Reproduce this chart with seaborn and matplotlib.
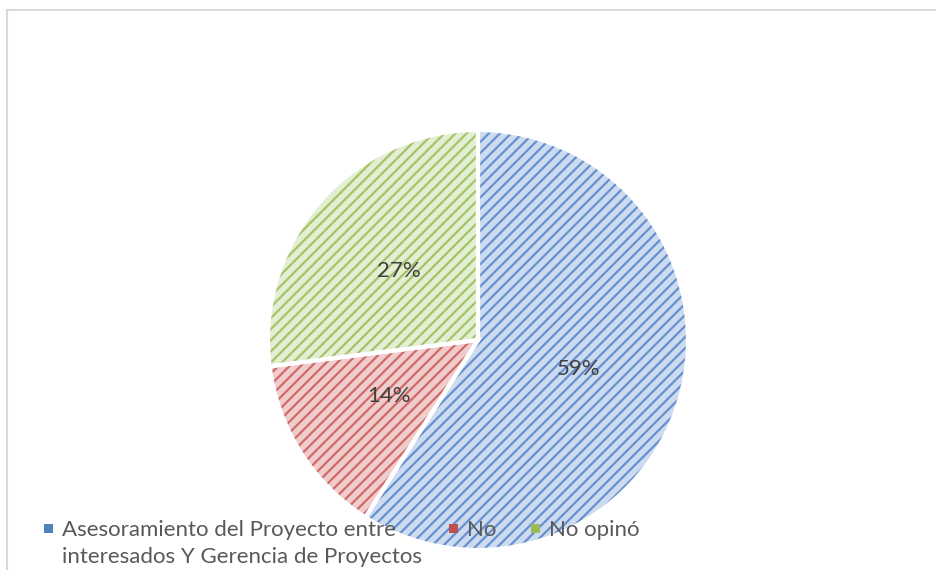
import matplotlib
matplotlib.use("Agg")
import matplotlib.pyplot as plt
from matplotlib.patches import Rectangle
import seaborn as sns

# ---- data ----
categories = ["Asesoramiento del Proyecto entre\ninteresados Y Gerencia de Proyectos",
              "No", "No opinó"]
values = [59, 14, 27]
face_colors = ["#CCDBF0", "#F0CDCC", "#E3EED2"]
stripe_colors = ["#6690CE", "#D06A68", "#A5C46A"]
legend_colors = ["#4F81BD", "#C0504D", "#9BBB59"]

sns.set_theme(style="white")
plt.rcParams["font.family"] = ["Lato", "DejaVu Sans"]
plt.rcParams["hatch.linewidth"] = 1.6

W, H = 937, 570
fig = plt.figure(figsize=(W / 100, H / 100), dpi=100)
fig.patch.set_facecolor("white")

# outer chart frame (top & left visible, rest beyond canvas)
fig.patches.append(Rectangle((7 / W, -0.1), 1.2, (H - 10) / H + 0.1,
                             transform=fig.transFigure, fill=False,
                             edgecolor="#D9D9D9", linewidth=1.5))

cx, cy, r = 478, 340, 210
ax = fig.add_axes([(cx - r) / W, (H - cy - r) / H, 2 * r / W, 2 * r / H])

# hatched fill
wedges, _ = ax.pie(values, colors=face_colors, startangle=90, counterclock=False,
                   radius=1, wedgeprops=dict(linewidth=0))
for w, sc in zip(wedges, stripe_colors):
    w.set_hatch("///")
    w.set_edgecolor(sc)
    w.set_linewidth(0)

# white separators + percent labels
wedges2, _, autotexts = ax.pie(values, colors=["none"] * 3, startangle=90,
                               counterclock=False, radius=1,
                               autopct="%1.0f%%", pctdistance=0.5,
                               wedgeprops=dict(edgecolor="white", linewidth=3),
                               textprops=dict(color="#404040", fontsize=16))
for w in wedges2:
    w.set_facecolor("none")
ax.set_xlim(-1, 1)
ax.set_ylim(-1, 1)
ax.axis("off")

# legend (drawn manually, Excel style)
sq_x = [44, 449, 531]
txt_x = [62, 467, 549]
baseline_y = 536
line_step = 27
sq_cy = 528
sq = 9
for lab, col, sx, tx in zip(categories, legend_colors, sq_x, txt_x):
    fig.patches.append(Rectangle((sx / W, (H - sq_cy - sq / 2) / H), sq / W, sq / H,
                                 transform=fig.transFigure, facecolor=col,
                                 edgecolor="none", linewidth=0))
    for i, line in enumerate(lab.split("\n")):
        fig.text(tx / W, (H - baseline_y - i * line_step) / H, line,
                 fontsize=16, color="#595959", ha="left", va="baseline",
                 transform=fig.transFigure)

fig.savefig("out.png", dpi=100, facecolor="white")
